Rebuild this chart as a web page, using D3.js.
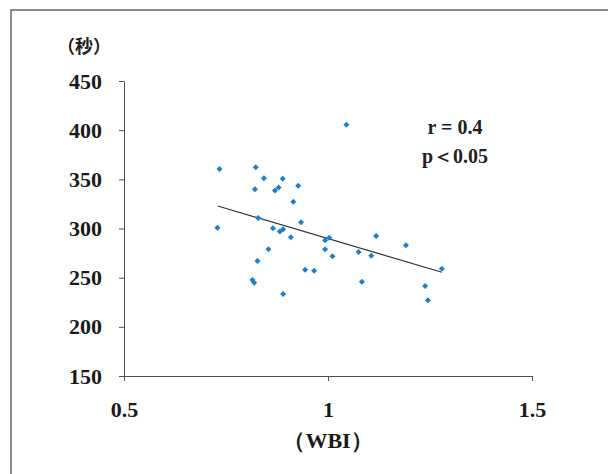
<!DOCTYPE html>
<html>
<head>
<meta charset="utf-8">
<script src="https://cdn.jsdelivr.net/npm/d3@7"></script>
<style>
  body { margin: 0; background: #fff; }
  svg { display: block; }
</style>
</head>
<body>
<svg id="chart"></svg>
<script>
// WBI values (x) and seconds (y)
const wbi = [0.734, 0.823, 0.843, 0.889, 0.927, 0.821, 0.870, 0.879, 0.915, 0.829,
             0.729, 0.865, 0.934, 0.882, 0.890, 0.909, 0.854, 0.827, 0.944, 0.966,
             0.815, 0.819, 0.890, 1.045, 0.993, 1.003, 1.118, 0.993, 1.011, 1.075,
             1.106, 1.191, 1.279, 1.083, 1.238, 1.245];
const seconds = [360.5, 362.2, 351.1, 350.7, 343.5, 339.9, 338.6, 341.7, 327.3, 310.7,
                 300.8, 300.2, 306.3, 297.0, 299.2, 291.1, 278.9, 267.0, 258.1, 257.1,
                 247.6, 244.9, 233.4, 405.6, 288.0, 290.6, 292.4, 278.9, 271.7, 276.1,
                 272.3, 282.9, 259.1, 245.9, 241.5, 227.0];
// regression line end points (WBI, seconds)
const trendX = [0.730, 1.279];
const trendY = [322.9, 255.5];
const xTicks = [0.5, 1, 1.5];
const yTicks = [150, 200, 250, 300, 350, 400, 450];
const stats = ["r = 0.4", "p\uFF1C0.05"];

const width = 608, height = 474;
const margin = {top: 81, right: 76, bottom: 98, left: 124};

const svg = d3.select('#chart')
  .attr('width', width)
  .attr('height', height);

// scanned page frame (top + left edges)
svg.append('path')
  .attr('d', `M11,474 L11,10 L608,10`)
  .attr('fill', 'none')
  .attr('stroke', '#666')
  .attr('stroke-width', 1.5);

const x = d3.scaleLinear().domain([0.5, 1.5]).range([margin.left, width - margin.right]);
const y = d3.scaleLinear().domain([150, 450]).range([height - margin.bottom, margin.top]);

const axisColor = '#4a5060';
const serif = '"Liberation Serif", "DejaVu Serif", serif';

// y axis
const yAxisG = svg.append('g')
  .attr('transform', `translate(${margin.left},0)`)
  .call(d3.axisLeft(y).tickValues(yTicks).tickSize(5).tickSizeOuter(0).tickPadding(17));
yAxisG.select('.domain').attr('stroke', axisColor);
yAxisG.selectAll('.tick line').attr('stroke', axisColor);
yAxisG.selectAll('.tick text')
  .attr('fill', '#1a1a1a')
  .style('font-family', serif)
  .style('font-weight', 'bold')
  .style('font-size', '22px');

// x axis
const xAxisG = svg.append('g')
  .attr('transform', `translate(0,${height - margin.bottom})`)
  .call(d3.axisBottom(x).tickValues(xTicks).tickSize(5).tickSizeOuter(0).tickPadding(20)
    .tickFormat(d3.format('')));
xAxisG.select('.domain').attr('stroke', axisColor);
xAxisG.selectAll('.tick line').attr('stroke', axisColor);
xAxisG.selectAll('.tick text')
  .attr('fill', '#1a1a1a')
  .style('font-family', serif)
  .style('font-weight', 'bold')
  .style('font-size', '22px');

// axis titles
svg.append('text')
  .attr('x', 84).attr('y', 53)
  .attr('text-anchor', 'middle')
  .attr('fill', '#222')
  .style('font-family', '"Noto Sans CJK JP", sans-serif')
  .style('font-weight', 'bold')
  .style('font-size', '18px')
  .text('\uFF08秒\uFF09');

svg.append('text')
  .attr('x', x(1)).attr('y', 448)
  .attr('text-anchor', 'middle')
  .attr('fill', '#1a1a1a')
  .style('font-family', serif)
  .style('font-weight', 'bold')
  .style('font-size', '22px')
  .text('\uFF08WBI\uFF09');

// regression line
svg.append('line')
  .attr('x1', x(trendX[0])).attr('y1', y(trendY[0]))
  .attr('x2', x(trendX[1])).attr('y2', y(trendY[1]))
  .attr('stroke', '#333')
  .attr('stroke-width', 1.2);

// points (small rotated squares)
const sym = d3.symbol().type(d3.symbolSquare).size(18);
svg.append('g')
  .selectAll('path')
  .data(wbi.map((v, i) => ({x: v, y: seconds[i]})))
  .join('path')
  .attr('transform', d => `translate(${x(d.x)},${y(d.y)}) rotate(45)`)
  .attr('d', sym)
  .attr('fill', '#1a7fcc');

// stats text
svg.selectAll('.stat')
  .data(stats)
  .join('text')
  .attr('class', 'stat')
  .attr('x', 455)
  .attr('y', (d, i) => 134 + i * 29)
  .attr('text-anchor', 'middle')
  .attr('fill', '#222')
  .style('font-family', serif)
  .style('font-weight', 'bold')
  .style('font-size', '20px')
  .text(d => d);
</script>
</body>
</html>
